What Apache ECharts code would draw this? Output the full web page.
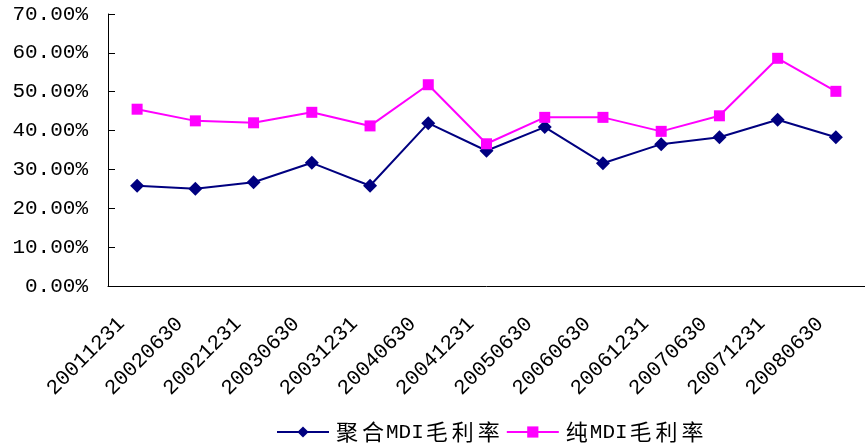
<!DOCTYPE html>
<html>
<head>
<meta charset="utf-8">
<script src="https://cdn.jsdelivr.net/npm/echarts@6/dist/echarts.min.js"></script>
<style>html,body{margin:0;padding:0;background:#fff}#c{width:865px;height:446px}</style>
</head>
<body>
<div id="c"></div>
<script>
const categories = ['20011231','20020630','20021231','20030630','20031231','20040630','20041231','20050630','20060630','20061231','20070630','20071231','20080630'];
const seriesNames = ['聚合MDI毛利率','纯MDI毛利率'];
const polymericMDI = [25.8,25.0,26.7,31.7,25.8,41.9,34.8,40.9,31.6,36.5,38.3,42.8,38.3];
const pureMDI = [45.5,42.5,42.0,44.7,41.2,51.8,36.6,43.4,43.4,39.8,43.8,58.6,50.1];
const yTicks = [0,10,20,30,40,50,60,70];

const mono = 'Liberation Mono';
function toRich(name){
  return name.split('').map(ch => /[A-Za-z]/.test(ch) ? '{l|'+ch+'}' : '{c|'+ch+'}').join('');
}
const chart = echarts.init(document.getElementById('c'), null, {renderer:'canvas'});
chart.setOption({
  animation:false,
  backgroundColor:'#fff',
  grid:{left:108, right:-9, top:14, bottom:160, containLabel:false},
  legend:{
    left:271, top:416,
    itemWidth:52, itemHeight:14, itemGap:6,
    data:seriesNames,
    formatter: n => toRich(n),
    textStyle:{
      color:'#000',
      rich:{
        c:{fontFamily:'Noto Sans CJK SC', fontSize:22, color:'#000', padding:[0,2,0,2]},
        l:{fontFamily:mono, fontSize:21, color:'#000'}
      }
    }
  },
  xAxis:{
    type:'category',
    data:categories,
    boundaryGap:true,
    axisLine:{lineStyle:{color:'#000', width:1}},
    axisTick:{inside:true, length:7, lineStyle:{color:'#000'}},
    axisLabel:{rotate:45, margin:19, padding:[0,22,0,0], interval:0,
      fontFamily:mono, fontSize:21, color:'#000'},
    splitLine:{show:false}
  },
  yAxis:{
    type:'value',
    min:yTicks[0], max:yTicks[yTicks.length-1], interval:10,
    axisLine:{show:true, lineStyle:{color:'#000', width:1}},
    axisTick:{show:true, inside:true, length:7, lineStyle:{color:'#000'}},
    axisLabel:{margin:20, fontFamily:mono, fontSize:21, color:'#000',
      formatter: v => v.toFixed(2)+'%'},
    splitLine:{show:false}
  },
  series:[
    {name:seriesNames[0], type:'line', data:polymericMDI,
      symbol:'diamond', symbolSize:14,
      lineStyle:{color:'#000080', width:2},
      itemStyle:{color:'#000080'}},
    {name:seriesNames[1], type:'line', data:pureMDI,
      symbol:'rect', symbolSize:11,
      lineStyle:{color:'#FF00FF', width:2},
      itemStyle:{color:'#FF00FF'}}
  ]
});
</script>
</body>
</html>
